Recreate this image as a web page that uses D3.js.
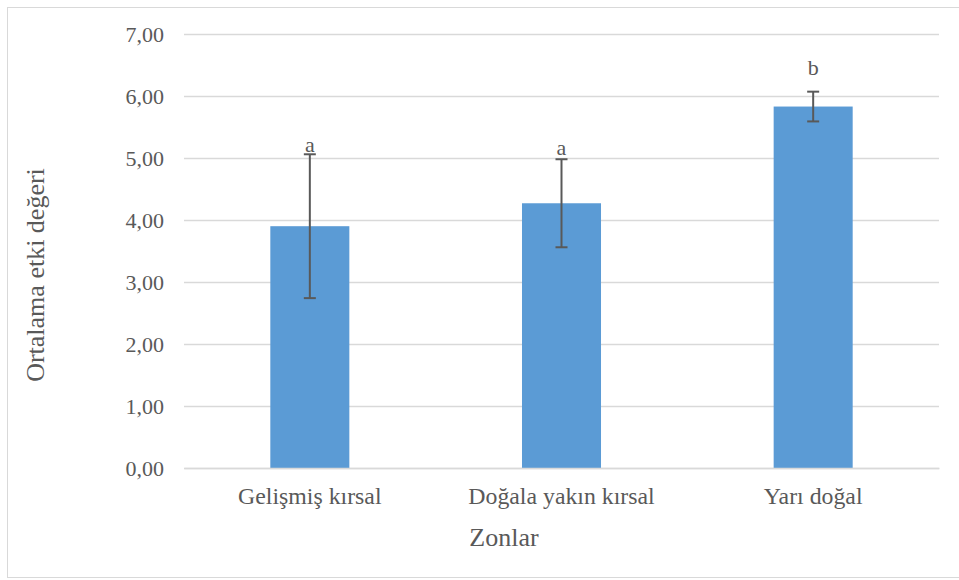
<!DOCTYPE html>
<html>
<head>
<meta charset="utf-8">
<script src="https://cdn.jsdelivr.net/npm/d3@7"></script>
<style>
  html, body { margin: 0; padding: 0; background: #fff; }
  svg { display: block; }
</style>
</head>
<body>
<svg id="chart" width="959" height="580" font-family="Liberation Serif, Times New Roman, serif"></svg>
<script>
// Zone categories, mean effect values, error (±) and significance letters
const categories = ["Gelişmiş kırsal", "Doğala yakın kırsal", "Yarı doğal"];
const means = [3.90, 4.27, 5.83];
const errors = [1.16, 0.71, 0.24];
const letters = ["a", "a", "b"];
const yTicks = [0, 1, 2, 3, 4, 5, 6, 7];

const FONT = "Liberation Serif, Times New Roman, serif";
const TEXT = "#595959";
const svg = d3.select("#chart");
const W = 959, H = 580;
const plot = { left: 184, right: 939, top: 34, bottom: 468 };

// Chart frame
svg.append("rect")
  .attr("x", 7.5).attr("y", 7.5)
  .attr("width", W).attr("height", H - 10)
  .attr("fill", "none").attr("stroke", "#d9d9d9").attr("stroke-width", 1);

const x = d3.scaleBand().domain(categories).range([plot.left, plot.right]).padding(0);
const y = d3.scaleLinear().domain([0, 7]).range([plot.bottom, plot.top]);
const barW = x.bandwidth() * 0.314;
const fmt = v => d3.format(".2f")(v).replace(".", ",");

// Horizontal gridlines with tick labels
const yAxis = d3.axisLeft(y).tickValues(yTicks).tickSize(-(plot.right - plot.left)).tickPadding(20).tickFormat(fmt);
const gy = svg.append("g").attr("transform", `translate(${plot.left},0)`).call(yAxis)
  .attr("font-family", FONT).attr("font-size", 22);
gy.select(".domain").remove();
gy.selectAll(".tick line").attr("stroke", "#d9d9d9").attr("stroke-width", 1.3);
gy.selectAll(".tick text").attr("fill", TEXT);

// Bars
svg.append("g").selectAll("rect").data(categories).join("rect")
  .attr("x", d => x(d) + x.bandwidth() / 2 - barW / 2)
  .attr("y", (d, i) => y(means[i]))
  .attr("width", barW)
  .attr("height", (d, i) => y(0) - y(means[i]))
  .attr("fill", "#5b9bd5");

// Category axis along the zero line
const xAxis = d3.axisBottom(x).tickSize(0).tickPadding(19);
const gx = svg.append("g").attr("transform", `translate(0,${plot.bottom})`).call(xAxis)
  .attr("font-family", FONT).attr("font-size", 23.8);
gx.select(".domain").attr("stroke", "#d9d9d9").attr("stroke-width", 1.3);
gx.selectAll(".tick text").attr("fill", TEXT);

// Error bars
const eb = svg.append("g").attr("stroke", TEXT).attr("stroke-width", 2);
categories.forEach((c, i) => {
  const cx = x(c) + x.bandwidth() / 2;
  const hi = y(means[i] + errors[i]), lo = y(means[i] - errors[i]);
  eb.append("line").attr("x1", cx).attr("x2", cx).attr("y1", hi).attr("y2", lo);
  eb.append("line").attr("x1", cx - 6).attr("x2", cx + 6).attr("y1", hi).attr("y2", hi);
  eb.append("line").attr("x1", cx - 6).attr("x2", cx + 6).attr("y1", lo).attr("y2", lo);
});

// Significance letters above the error bars
const letterGap = [2, 4, 17];
svg.append("g").selectAll("text").data(categories).join("text")
  .attr("x", d => x(d) + x.bandwidth() / 2)
  .attr("y", (d, i) => y(means[i] + errors[i]) - letterGap[i])
  .attr("text-anchor", "middle")
  .attr("font-size", 22).attr("fill", TEXT)
  .text((d, i) => letters[i]);

// Axis titles
svg.append("text")
  .attr("x", 504).attr("y", 546)
  .attr("text-anchor", "middle").attr("font-size", 26).attr("fill", TEXT)
  .text("Zonlar");

svg.append("text")
  .attr("transform", `translate(44,${(plot.top + plot.bottom) / 2 + 24}) rotate(-90)`)
  .attr("text-anchor", "middle").attr("font-size", 26).attr("fill", TEXT)
  .text("Ortalama etki değeri");
</script>
</body>
</html>
